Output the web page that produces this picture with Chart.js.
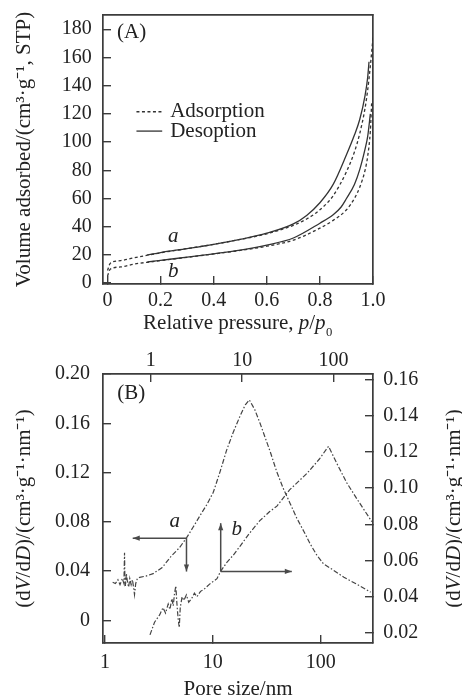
<!DOCTYPE html>
<html><head><meta charset="utf-8">
<script src="https://cdn.jsdelivr.net/npm/chart.js@4.4.1/dist/chart.umd.min.js"></script>
<style>
html,body{margin:0;padding:0;background:#fff;}
#wrap{position:relative;width:462px;height:698px;overflow:hidden;background:#fff;}
#cA{position:absolute;left:0;top:0;}
#cB{position:absolute;left:0;top:340px;}
</style></head><body>
<div id="wrap">
<canvas id="cA" width="462" height="340"></canvas>
<canvas id="cB" width="462" height="358"></canvas>
</div>
<script>
// ---------- Panel A data (relative pressure p/p0 vs volume adsorbed) ----------
const pressureTicks = [0, 0.2, 0.4, 0.6, 0.8, 1.0];
const pressureLabels = ['0', '0.2', '0.4', '0.6', '0.8', '1.0'];
const volumeTicks = [0, 20, 40, 60, 80, 100, 120, 140, 160, 180];
const volumeLabels = ['0', '20', '40', '60', '80', '100', '120', '140', '160', '180'];

const aAdsP = [0, 0.01, 0.05, 0.1, 0.15, 0.2, 0.3, 0.4, 0.5, 0.6, 0.7, 0.75, 0.8, 0.85, 0.9, 0.93, 0.95, 0.97, 0.98, 0.99, 1.0];
const aAdsV = [9, 14, 16, 18, 19.8, 21.5, 24.5, 27.5, 31, 35, 41, 45.5, 52, 62, 79, 93, 106, 124, 137, 154, 174];
const aDesP = [0.15, 0.2, 0.3, 0.4, 0.5, 0.6, 0.7, 0.75, 0.8, 0.85, 0.9, 0.93, 0.95, 0.97, 0.98, 0.985];
const aDesV = [20, 21.7, 24.5, 27.5, 31, 35.4, 42, 48, 57, 70, 91, 105, 116, 133, 146, 157];
const bAdsP = [0, 0.01, 0.05, 0.1, 0.15, 0.2, 0.3, 0.4, 0.5, 0.6, 0.7, 0.8, 0.85, 0.9, 0.93, 0.95, 0.97, 0.98, 0.99, 0.995];
const bAdsV = [5, 9.8, 11.5, 13.5, 14.8, 16, 18.3, 20.7, 23.2, 26.2, 30.5, 39, 44.5, 52, 60, 68, 80, 90, 108, 128];
const bDesP = [0.15, 0.2, 0.3, 0.4, 0.5, 0.6, 0.7, 0.8, 0.85, 0.88, 0.9, 0.93, 0.95, 0.97, 0.98, 0.99];
const bDesV = [15, 16.2, 18.4, 20.8, 23.4, 27, 32, 42.5, 48.5, 54, 60, 70, 80.5, 95, 104, 120];

// ---------- Panel B data (pore size distribution) ----------
const poreTicks = [1, 10, 100];
const poreLabels = ['1', '10', '100'];
const leftTicks = [0, 0.04, 0.08, 0.12, 0.16, 0.20];
const leftLabels = ['0', '0.04', '0.08', '0.12', '0.16', '0.20'];
const rightTicks = [0.02, 0.04, 0.06, 0.08, 0.10, 0.12, 0.14, 0.16];
const rightLabels = ['0.02', '0.04', '0.06', '0.08', '0.10', '0.12', '0.14', '0.16'];

// sample a: bottom pore axis, left dV/dD axis
const aPore = [1.18, 1.25, 1.32, 1.38, 1.45, 1.5, 1.52, 1.53, 1.55, 1.58, 1.62, 1.66, 1.7, 1.75, 1.8, 1.85, 1.88, 1.93, 2.0, 2.1, 2.4, 2.8, 3.4, 4.1, 4.9, 5.7, 6.6, 7.6, 8.8, 10.1, 11.7, 13.4, 15.5, 17.9, 20, 21.8, 24.5, 27.4, 34, 39, 45, 52, 60, 70, 80, 92, 106, 130, 164, 210, 290];
const aDvdD = [0.031, 0.030, 0.033, 0.029, 0.034, 0.030, 0.055, 0.036, 0.028, 0.038, 0.031, 0.027, 0.034, 0.029, 0.033, 0.026, 0.021, 0.030, 0.034, 0.035, 0.036, 0.038, 0.043, 0.052, 0.059, 0.067, 0.076, 0.085, 0.094, 0.104, 0.121, 0.138, 0.153, 0.166, 0.175, 0.179, 0.171, 0.160, 0.137, 0.121, 0.107, 0.095, 0.083, 0.072, 0.062, 0.053, 0.046, 0.041, 0.035, 0.030, 0.023];
// sample b: top pore axis, right dV/dD axis
const bPore = [0.98, 1.1, 1.25, 1.36, 1.45, 1.55, 1.62, 1.7, 1.76, 1.82, 1.88, 1.92, 1.96, 2.0, 2.05, 2.1, 2.2, 2.3, 2.45, 2.6, 2.8, 3.0, 3.2, 3.5, 3.8, 4.4, 5.3, 5.8, 6.8, 8.0, 9.5, 12, 15.6, 20, 24, 33, 51, 70, 88, 110, 139, 180, 262];
const bDvdD = [0.019, 0.026, 0.030, 0.034, 0.031, 0.036, 0.033, 0.039, 0.035, 0.042, 0.046, 0.038, 0.032, 0.027, 0.023, 0.034, 0.040, 0.038, 0.041, 0.037, 0.039, 0.042, 0.040, 0.043, 0.044, 0.047, 0.050, 0.054, 0.059, 0.063, 0.068, 0.075, 0.082, 0.087, 0.090, 0.099, 0.108, 0.116, 0.123, 0.113, 0.103, 0.094, 0.0815];

// ---------- styling ----------
const FAMILY = 'Liberation Serif';
const INK = '#222';
const FRAME = '#3c3c3c';
const LINE = '#333';
const LINEB = '#444';

function pts(xs, ys) { return xs.map((x, i) => ({x: x, y: ys[i]})); }

function axis(o) {
  return {
    type: o.type || 'linear', position: o.position, min: o.min, max: o.max, display: true,
    afterFit(s) {
      if (s.isHorizontal()) s.height = o.size; else s.width = o.size;
      s.paddingLeft = 0; s.paddingRight = 0; s.paddingTop = 0; s.paddingBottom = 0;
    },
    afterBuildTicks(s) { s.ticks = (o.ticks || []).map(v => ({value: v})); },
    grid: {display: !!o.ticks, drawOnChartArea: false, drawTicks: true, tickLength: -8,
           tickColor: FRAME, tickWidth: 1.4, color: FRAME, lineWidth: 1.4},
    border: {display: true, color: FRAME, width: 1.7},
    ticks: {display: !!o.labels, padding: o.pad || 0, color: INK, autoSkip: false, maxRotation: 0, minRotation: 0,
            font: {family: FAMILY, size: 20},
            callback: (v, i) => (o.labels ? o.labels[i] : '')}
  };
}

function fontOf(s, size) { return (s.i ? 'italic ' : '') + size + 'px "' + FAMILY + '"'; }
function drawRich(ctx, segs, cx, cy, rot, size, align) {
  ctx.save();
  ctx.translate(cx, cy); ctx.rotate(rot);
  ctx.fillStyle = INK; ctx.textBaseline = 'middle'; ctx.textAlign = 'left';
  const ws = segs.map(s => { ctx.font = fontOf(s, size); return ctx.measureText(s.t).width; });
  const total = ws.reduce((a, b) => a + b, 0);
  let x = (align === 'left') ? 0 : -total / 2;
  segs.forEach((s, k) => { ctx.font = fontOf(s, size); ctx.fillText(s.t, x, s.dy || 0); x += ws[k]; });
  ctx.restore();
}
function arrow(ctx, x1, y1, x2, y2) {
  ctx.save();
  ctx.strokeStyle = '#4a4a4a'; ctx.fillStyle = '#4a4a4a'; ctx.lineWidth = 1.5;
  ctx.beginPath(); ctx.moveTo(x1, y1); ctx.lineTo(x2, y2); ctx.stroke();
  const ang = Math.atan2(y2 - y1, x2 - x1), L = 7, W = 2.6;
  ctx.beginPath();
  ctx.moveTo(x2, y2);
  ctx.lineTo(x2 - L * Math.cos(ang) + W * Math.sin(ang), y2 - L * Math.sin(ang) - W * Math.cos(ang));
  ctx.lineTo(x2 - L * Math.cos(ang) - W * Math.sin(ang), y2 - L * Math.sin(ang) + W * Math.cos(ang));
  ctx.closePath(); ctx.fill();
  ctx.restore();
}

const common = {
  responsive: false, animation: false, events: [],
  layout: {padding: 0, autoPadding: false},
};

// ---------- Chart A ----------
const annotA = {
  id: 'annotA',
  afterDraw(chart) {
    const ctx = chart.ctx, ca = chart.chartArea, X = chart.scales.x, Y = chart.scales.y;
    drawRich(ctx, [{t: 'Volume adsorbed/(cm³·g⁻¹, STP)'}], 24, (ca.top + ca.bottom) / 2, -Math.PI / 2, 21);
    drawRich(ctx, [{t: 'Relative pressure, '}, {t: 'p', i: 1}, {t: '/'}, {t: 'p', i: 1}, {t: '₀', dy: 3}], (ca.left + ca.right) / 2, 323, 0, 21);
    drawRich(ctx, [{t: '(A)'}], X.getPixelForValue(0.036), Y.getPixelForValue(178), 0, 21, 'left');
    drawRich(ctx, [{t: 'a', i: 1}], X.getPixelForValue(0.248), Y.getPixelForValue(32.8), 0, 21);
    drawRich(ctx, [{t: 'b', i: 1}], X.getPixelForValue(0.248), Y.getPixelForValue(8), 0, 21);
    // legend
    ctx.save();
    ctx.strokeStyle = LINE; ctx.lineWidth = 1.3;
    const lx1 = X.getPixelForValue(0.109), lx2 = X.getPixelForValue(0.206);
    const y1 = Y.getPixelForValue(121.5), y2 = Y.getPixelForValue(107.8);
    ctx.setLineDash([3, 2.5]);
    ctx.beginPath(); ctx.moveTo(lx1, y1); ctx.lineTo(lx2, y1); ctx.stroke();
    ctx.setLineDash([]);
    ctx.beginPath(); ctx.moveTo(lx1, y2); ctx.lineTo(lx2, y2); ctx.stroke();
    ctx.restore();
    const tx = X.getPixelForValue(0.236);
    drawRich(ctx, [{t: 'Adsorption'}], tx, y1, 0, 21, 'left');
    drawRich(ctx, [{t: 'Desoption'}], tx, y2, 0, 21, 'left');
  }
};

function lineA(label, xs, ys, dashed) {
  return {label: label, data: pts(xs, ys), showLine: true, borderColor: LINE, borderWidth: 1.3,
          borderDash: dashed ? [3, 2.5] : [], pointRadius: 0, fill: false, cubicInterpolationMode: 'monotone'};
}

new Chart(document.getElementById('cA'), {
  type: 'scatter',
  data: {datasets: [
    lineA('a Adsorption', aAdsP, aAdsV, true),
    lineA('a Desoption', aDesP, aDesV, false),
    lineA('b Adsorption', bAdsP, bAdsV, true),
    lineA('b Desoption', bDesP, bDesV, false)
  ]},
  options: Object.assign({}, common, {
    plugins: {legend: {display: false}, tooltip: {enabled: false}},
    scales: {
      x: axis({position: 'bottom', min: -0.017, max: 1.0, ticks: pressureTicks, labels: pressureLabels, size: 56, pad: 12.5}),
      y: axis({position: 'left', min: -0.6, max: 190.1, ticks: volumeTicks, labels: volumeLabels, size: 103, pad: 19.3}),
      x2: axis({position: 'top', min: 0, max: 1, size: 15}),
      y2: axis({position: 'right', min: 0, max: 1, size: 89})
    }
  }),
  plugins: [annotA]
});

// ---------- Chart B ----------
const annotB = {
  id: 'annotB',
  afterDraw(chart) {
    const ctx = chart.ctx, ca = chart.chartArea, s = chart.scales;
    const midY = (ca.top + ca.bottom) / 2;
    const ttl = [{t: '(d'}, {t: 'V', i: 1}, {t: '/d'}, {t: 'D', i: 1}, {t: ')/(cm³·g⁻¹·nm⁻¹)'}];
    drawRich(ctx, ttl, 24, midY, -Math.PI / 2, 21);
    drawRich(ctx, ttl, 454, midY, -Math.PI / 2, 21);
    drawRich(ctx, [{t: 'Pore size/nm'}], (ca.left + ca.right) / 2, 349, 0, 21);
    drawRich(ctx, [{t: '(B)'}], s.x.getPixelForValue(1.3), s.y.getPixelForValue(0.1843), 0, 21, 'left');
    drawRich(ctx, [{t: 'a', i: 1}], s.x.getPixelForValue(4.43), s.y.getPixelForValue(0.0802), 0, 21);
    drawRich(ctx, [{t: 'b', i: 1}], s.x2.getPixelForValue(8.73), s.y2.getPixelForValue(0.0769), 0, 21);
    // arrow for a: left -> left axis, down -> bottom axis
    const ax = s.x.getPixelForValue(5.7), ay = s.y.getPixelForValue(0.0668);
    arrow(ctx, ax, ay, s.x.getPixelForValue(1.81), ay);
    arrow(ctx, ax, ay, ax, s.y.getPixelForValue(0.0397));
    // arrow for b: up -> top axis, right -> right axis
    const bx = s.x2.getPixelForValue(5.82), by = s.y2.getPixelForValue(0.054);
    arrow(ctx, bx, by, bx, s.y2.getPixelForValue(0.0806));
    arrow(ctx, bx, by, s.x2.getPixelForValue(34.9), by);
  }
};

function lineB(label, xs, ys, xid, yid) {
  return {label: label, data: pts(xs, ys), xAxisID: xid, yAxisID: yid, showLine: true, borderColor: LINEB,
          borderWidth: 1.2, borderDash: [5, 2, 1.5, 2], pointRadius: 0, fill: false, tension: 0};
}

new Chart(document.getElementById('cB'), {
  type: 'scatter',
  data: {datasets: [
    lineB('a', aPore, aDvdD, 'x', 'y'),
    lineB('b', bPore, bDvdD, 'x2', 'y2')
  ]},
  options: Object.assign({}, common, {
    plugins: {legend: {display: false}, tooltip: {enabled: false}},
    scales: {
      x: axis({type: 'logarithmic', position: 'bottom', min: 0.96, max: 305, ticks: poreTicks, labels: poreLabels, size: 55, pad: 16}),
      x2: axis({type: 'logarithmic', position: 'top', min: 0.30, max: 270, ticks: poreTicks, labels: poreLabels, size: 34, pad: 9.3}),
      y: axis({position: 'left', min: -0.0183, max: 0.2, ticks: leftTicks, labels: leftLabels, size: 103, pad: 21}),
      y2: axis({position: 'right', min: 0.0145, max: 0.1629, ticks: rightTicks, labels: rightLabels, size: 89, pad: 18.3})
    }
  }),
  plugins: [annotB]
});
</script>
</body></html>
